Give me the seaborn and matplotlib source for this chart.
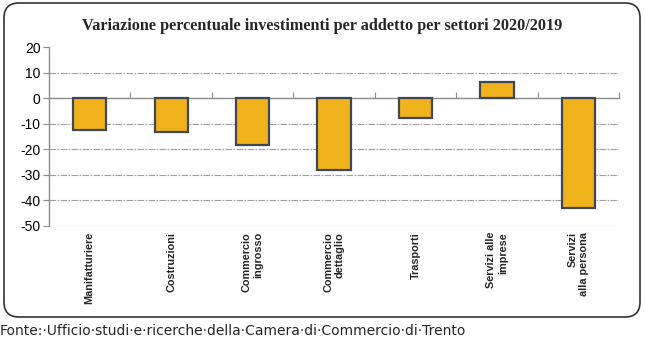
import matplotlib
matplotlib.use("Agg")
import matplotlib.pyplot as plt
import matplotlib.transforms as mtransforms
from matplotlib.patches import FancyBboxPatch
import seaborn as sns
import pandas as pd

# Data
settori = [
    "Manifatturiere",
    "Costruzioni",
    "Commercio\ningrosso",
    "Commercio\ndettaglio",
    "Trasporti",
    "Servizi alle\nimprese",
    "Servizi\nalla persona",
]
variazione = [-12.3, -13.3, -18.2, -28.1, -7.6, 6.4, -43.1]
y_ticks = [20, 10, 0, -10, -20, -30, -40, -50]

titolo = "Variazione percentuale investimenti per addetto per settori 2020/2019"
fonte = "Fonte:\u00b7Ufficio\u00b7studi\u00b7e\u00b7ricerche\u00b7della\u00b7Camera\u00b7di\u00b7Commercio\u00b7di\u00b7Trento"

sns.set_theme(style="white")
plt.rcParams["font.family"] = ["Liberation Sans", "DejaVu Sans"]
plt.rcParams["axes.unicode_minus"] = False

BAR = "#F0B31B"
EDGE = "#3F4656"
GRID = "#a0a0a0"
AXIS = "#8c8c8c"

fig = plt.figure(figsize=(6.45, 3.41), dpi=100)
ax = fig.add_axes([0.076, 0.338, 0.884, 0.5235])

df = pd.DataFrame({"settore": settori, "variazione": variazione})
sns.barplot(
    data=df, x="settore", y="variazione", color=BAR, saturation=1,
    width=0.41, edgecolor=EDGE, linewidth=1.6, ax=ax, zorder=3,
)

ax.set_xlim(-0.5, len(settori) - 0.5)
ax.set_ylim(min(y_ticks), max(y_ticks))
ax.set_yticks(y_ticks)
ax.set_xlabel("")
ax.set_ylabel("")

# dashed horizontal gridlines (none at the top and at zero)
for v in y_ticks:
    if v not in (0, max(y_ticks)):
        ax.axhline(v, color=GRID, lw=0.8, ls=(0, (6, 1.2, 1.5, 1.2)), zorder=0)

for side in ("top", "right", "bottom"):
    ax.spines[side].set_visible(False)
ax.spines["left"].set_color(AXIS)
ax.spines["left"].set_linewidth(1.0)

ax.tick_params(axis="y", direction="out", length=4, width=0.8, color=AXIS,
               labelsize=10, labelcolor="black", pad=2, left=True)
ax.tick_params(axis="x", length=0, pad=4.5)
for lab in ax.get_xticklabels():
    lab.set_rotation(90)
    lab.set_fontsize(7.8)
    lab.set_fontweight("bold")
    lab.set_va("top")
    lab.set_ha("center")
    lab.set_multialignment("right")

# category axis crossing at zero, ticks between categories
zero_pos = (0 - min(y_ticks)) / (max(y_ticks) - min(y_ticks))
secax = ax.secondary_xaxis(zero_pos)
secax.set_xticks([i + 0.5 for i in range(len(settori))])
secax.set_xticklabels([])
secax.tick_params(direction="out", length=4, width=0.8, color=AXIS)
for sp in secax.spines.values():
    sp.set_color(AXIS)
    sp.set_linewidth(1.0)

fig.text(0.5, 0.924, titolo, ha="center", va="center",
         family="Liberation Serif", fontweight="bold", fontsize=11.7)

frame = FancyBboxPatch((4, 24), 636, 314,
                       boxstyle="round,pad=0,rounding_size=15",
                       transform=mtransforms.IdentityTransform(),
                       facecolor="none", edgecolor="#333333", linewidth=1.2)
fig.add_artist(frame)

fig.text(0.0, 10 / 341, fonte, ha="left", va="center",
         family="DejaVu Sans", fontsize=10)

fig.savefig("out.png", dpi=100, facecolor="white")
